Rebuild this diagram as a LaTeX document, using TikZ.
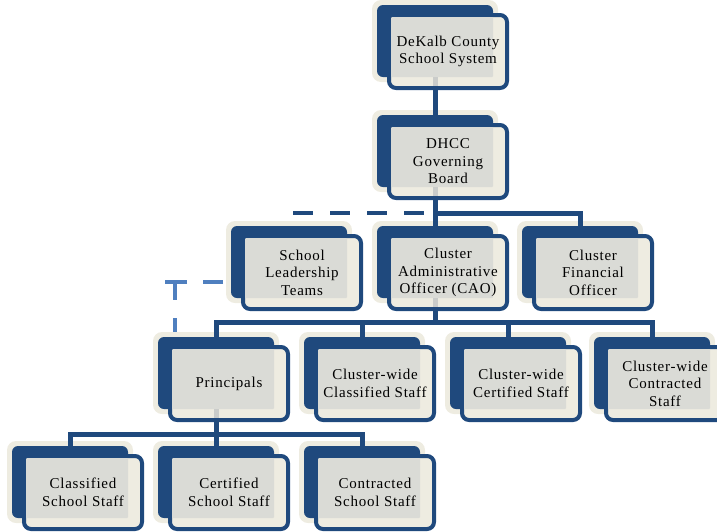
\documentclass[tikz,border=0pt]{standalone}
\usepackage{fontspec}
\setmainfont{Liberation Serif}[LetterSpace=5]
\definecolor{navy}{HTML}{1F497D}
\definecolor{beige}{HTML}{EEECE1}
\definecolor{innergray}{HTML}{DADBD6}
\definecolor{stubgray}{HTML}{CACCCA}
\definecolor{lightblue}{HTML}{4F7FBF}
\tikzset{
  glowbox/.style={fill=beige, rounded corners=9pt},
  navybox/.style={fill=navy, rounded corners=6pt},
  framebox/.style={draw=navy, line width=4pt, fill=beige, rounded corners=7pt},
  innerbox/.style={fill=innergray, rounded corners=1pt},
  boxtext/.style={align=center, inner sep=0pt, font=\fontsize{15}{17.5}\selectfont},
  conn/.style={draw=navy, line width=5pt},
  stubline/.style={draw=stubgray, line width=5pt},
  dashconn/.style={draw=navy, line width=4.5pt, dash pattern=on 20pt off 17pt},
  ldashconn/.style={draw=lightblue, line width=4pt, dash pattern=on 20pt off 16pt on 30pt off 18pt on 20pt},
}
\newcommand\orgbox[4]{%
  \begin{scope}[shift={(#2,#3)}]
    \fill[glowbox] (-5,-5) rectangle (121,77);
    \fill[navybox] (0,0) rectangle (116,72);
    \draw[framebox] (12,10) rectangle (130,83);
    \fill[innerbox] (14,12) rectangle (116,72);
    \coordinate (#1-t) at (58,0);
    \coordinate (#1-s) at (58,72);
    \coordinate (#1-s2) at (58,81);
    \coordinate (#1-b) at (58,85);
    \node[boxtext] (#1) at (71,46.5) {#4};
  \end{scope}}
\begin{document}
\begin{tikzpicture}[x=1pt,y=-1pt]
\useasboundingbox (0,0) rectangle (717,531);
% boxes
\orgbox{dk}{377}{5}{DeKalb County\\School System}
\orgbox{dh}{377}{115}{DHCC\\Governing\\Board}
\orgbox{sl}{231}{226}{School\\Leadership\\Teams}
\orgbox{cao}{377}{226}{Cluster\\Administrative\\Officer (CAO)}
\orgbox{cf}{522}{226}{Cluster\\Financial\\Officer}
\orgbox{pr}{158}{337}{Principals}
\orgbox{cc}{304}{337}{Cluster-wide\\Classified Staff}
\orgbox{ce}{450}{337}{Cluster-wide\\Certified Staff}
\orgbox{ct}{594}{337}{Cluster-wide\\Contracted\\Staff}
\orgbox{rs}{12}{446}{Classified\\School Staff}
\orgbox{rc}{158}{446}{Certified\\School Staff}
\orgbox{rt}{304}{446}{Contracted\\School Staff}
% stubs
\foreach \n in {dk,dh,cao,pr} {\draw[stubline] (\n-s) -- (\n-s2);}
% bus coordinates
\coordinate (bus1) at (0,213);
\coordinate (bus2) at (0,322);
\coordinate (bus3) at (0,434);
\coordinate (dl) at (293,213);
\coordinate (dsa) at (223,282);
\coordinate (dsb) at (175,282);
\coordinate (dsc) at (175,332);
\coordinate (dsd) at (165,282);
% connectors
\draw[conn] (dk-b) -- (dh-t);
\draw[conn] (dh-b) -- (cao-t);
\draw[conn] (dh-b |- bus1) -| (cf-t);
\draw[dashconn] (dl) -- (dh-b |- bus1);
\draw[conn] (cao-b) -- (cao-b |- bus2);
\draw[conn] (pr-t) -- (pr-t |- bus2) -- (ct-t |- bus2) -- (ct-t);
\draw[conn] (cc-t |- bus2) -- (cc-t);
\draw[conn] (ce-t |- bus2) -- (ce-t);
\draw[conn] (pr-b) -- (pr-b |- bus3);
\draw[conn] (rs-t) -- (rs-t |- bus3) -- (rt-t |- bus3) -- (rt-t);
\draw[conn] (rc-t |- bus3) -- (rc-t);
\draw[ldashconn] (dsa) -- (dsb) -- (dsc);
\draw[draw=lightblue, line width=4pt] (dsd) -- (dsb);
\end{tikzpicture}
\end{document}
